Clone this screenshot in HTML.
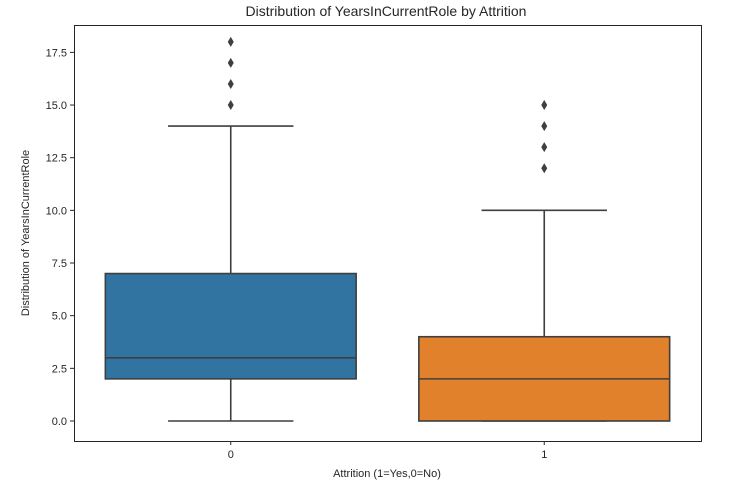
<!DOCTYPE html>
<html><head><meta charset="utf-8"><style>
body{margin:0;background:#fff;font-family:"Liberation Sans","DejaVu Sans",sans-serif}
text{font-family:"Liberation Sans","DejaVu Sans",sans-serif;fill:#262626}
</style></head><body>
<svg id="chart" width="729" height="485">
<text x="386" y="16" font-size="14" text-anchor="middle">Distribution of YearsInCurrentRole by Attrition</text>
<g id="yaxis"></g>
<g id="xaxis"></g>
<g id="boxes"></g>
<rect x="74.5" y="25.5" width="627" height="416" fill="none" stroke="#262626" stroke-width="1"/>
<text x="387" y="477" font-size="11" text-anchor="middle">Attrition (1=Yes,0=No)</text>
<text transform="translate(29,233) rotate(-90)" font-size="11" text-anchor="middle">Distribution of YearsInCurrentRole</text>
</svg>
<script>
const categories = ["0","1"];
const q1s = [2, 0];
const medians = [3, 2];
const q3s = [7, 4];
const whiskLow = [0, 0];
const whiskHigh = [14, 10];
const outliers = [[15,16,17,18],[12,13,14,15]];
const colors = ["#3274a1","#e1812c"];
const yTicks = [0,2.5,5,7.5,10,12.5,15,17.5];
const NS="http://www.w3.org/2000/svg";
const yMin=-0.95, yMax=18.8, plotTop=25, plotBottom=441, plotLeft=74, plotRight=701;
function y(v){return plotBottom-(v-yMin)/(yMax-yMin)*(plotBottom-plotTop);}
function x(i){return plotLeft+(i+0.5)*(plotRight-plotLeft)/categories.length;}
const step=(plotRight-plotLeft)/categories.length, bw=step*0.8;
function mk(tag,attrs,parent){const e=document.createElementNS(NS,tag);for(const k in attrs)e.setAttribute(k,attrs[k]);parent.appendChild(e);return e;}
const ya=document.getElementById('yaxis'), xa=document.getElementById('xaxis'), bx=document.getElementById('boxes');
yTicks.forEach(t=>{
  const l=mk('line',{x1:plotLeft-4,x2:plotLeft,y1:y(t),y2:y(t),stroke:'#262626'},ya);
  
  
  const tx=mk('text',{x:plotLeft-7,y:y(t)+4,'font-size':11,'text-anchor':'end'},ya);
  tx.textContent=t.toFixed(1);
  
  
});
categories.forEach((c,i)=>{
  const cx=x(i);
  const l=mk('line',{x1:cx,x2:cx,y1:plotBottom,y2:plotBottom+4,stroke:'#262626'},xa);
  
  
  const tx=mk('text',{x:cx,y:plotBottom+17,'font-size':11,'text-anchor':'middle'},xa);
  tx.textContent=c;
  
  
  const g=mk('g',{},bx);
  
  
  const s='#3f3f3f';
  mk('line',{x1:cx,x2:cx,y1:y(q1s[i]),y2:y(whiskLow[i]),stroke:s,'stroke-width':1.6},g);
  mk('line',{x1:cx,x2:cx,y1:y(q3s[i]),y2:y(whiskHigh[i]),stroke:s,'stroke-width':1.6},g);
  mk('line',{x1:cx-bw/4,x2:cx+bw/4,y1:y(whiskLow[i]),y2:y(whiskLow[i]),stroke:s,'stroke-width':1.6},g);
  mk('line',{x1:cx-bw/4,x2:cx+bw/4,y1:y(whiskHigh[i]),y2:y(whiskHigh[i]),stroke:s,'stroke-width':1.6},g);
  mk('rect',{x:cx-bw/2,y:y(q3s[i]),width:bw,height:y(q1s[i])-y(q3s[i]),fill:colors[i],stroke:s,'stroke-width':1.6},g);
  mk('line',{x1:cx-bw/2,x2:cx+bw/2,y1:y(medians[i]),y2:y(medians[i]),stroke:s,'stroke-width':1.6},g);
  outliers[i].forEach(o=>{
    const p=mk('path',{d:`M${cx},${y(o)-5} L${cx+3},${y(o)} L${cx},${y(o)+5} L${cx-3},${y(o)} Z`,fill:s},g);
    
    
  });
});
</script>
</body></html>
